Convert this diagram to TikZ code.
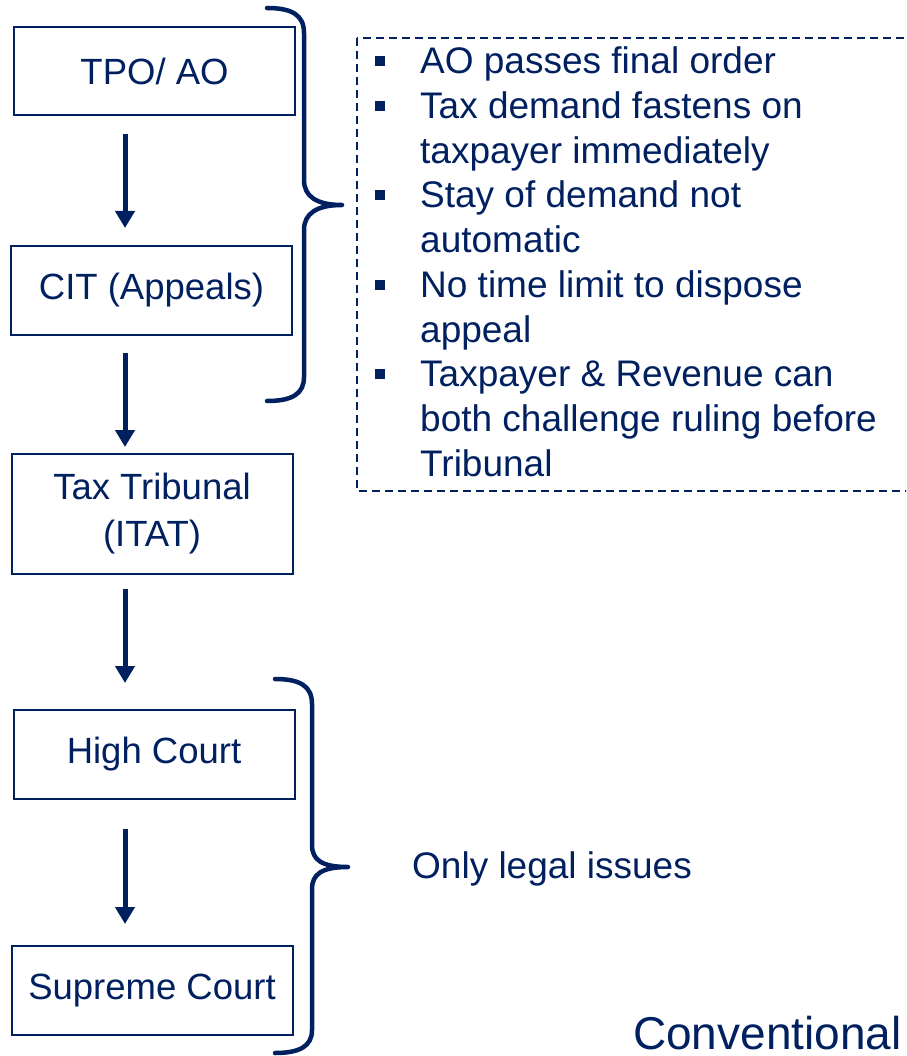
\documentclass[tikz,border=0pt]{standalone}
\usepackage{fontspec}
\setmainfont{Liberation Sans}
\usetikzlibrary{arrows.meta}
\definecolor{navy}{HTML}{002060}
\begin{document}
\begin{tikzpicture}[x=1pt,y=-1pt,
  stagebox/.style={draw=navy, line width=2pt, inner sep=0pt, text=navy,
    minimum width=281pt, align=center, font=\fontsize{36.5}{47}\selectfont},
  flow/.style={draw=navy, line width=5pt, -{Triangle[width=19pt,length=17pt]}},
  brace/.style={draw=navy, line width=4.5pt, line cap=round, line join=round},
  item/.style={anchor=base west, inner sep=0pt, text=navy, font=\fontsize{37}{44}\selectfont},
  bullet/.style={fill=navy, minimum size=10pt, inner sep=0pt},
  note/.style={anchor=base west, inner sep=0pt, text=navy}]
\clip (0,0) rectangle (906,1056);

% appeal stages
\node[stagebox, minimum height=88pt] (tpo) at (154.5,71) {TPO/ AO};
\node[stagebox, minimum height=89pt] (cit) at (151.5,290.5) {CIT (Appeals)};
\node[stagebox, minimum height=120pt] (itat) at (152,514) {Tax Tribunal\\(ITAT)};
\node[stagebox, minimum height=89pt] (hc) at (154,754.5) {High Court};
\node[stagebox, minimum height=89pt] (sc) at (152,990.5) {Supreme Court};

% arrows between stages
\coordinate (axis) at (125,0);
\draw[flow, shorten <=18pt, shorten >=17pt] (tpo.south -| axis) -- (cit.north -| axis);
\draw[flow, shorten <=17pt, shorten >=6pt] (cit.south -| axis) -- (itat.north -| axis);
\draw[flow, shorten <=14pt, shorten >=26pt] (itat.south -| axis) -- (hc.north -| axis);
\draw[flow, shorten <=29pt, shorten >=21pt] (hc.south -| axis) -- (sc.north -| axis);

% upper brace
\draw[brace] (267,8) .. controls (292,8) and (304,15) .. (304,33) -- (304,180)
  .. controls (304,196) and (316,205) .. (342,205)
  .. controls (316,205) and (304,214) .. (304,230) -- (304,377)
  .. controls (304,394) and (292,401) .. (267,401);

% lower brace
\draw[brace] (275,679) .. controls (300,679) and (312,686) .. (312,704) -- (312,845)
  .. controls (312,860) and (322,867) .. (348,867)
  .. controls (322,867) and (312,874) .. (312,889) -- (312,1030)
  .. controls (312,1046) and (300,1053) .. (275,1053);

% notes on the first appeal stages
\draw[navy, line width=1.8pt, dash pattern=on 8pt off 5pt] (357,38) rectangle (912,491);
\node[bullet] (b1) at (380,61.5) {};
\node[bullet] (b2) at (380,106.2) {};
\node[bullet] (b3) at (380,195.5) {};
\node[bullet] (b4) at (380,284.8) {};
\node[bullet] (b5) at (380,374.2) {};
\node[item] (l1) at (420,74) {AO passes final order};
\node[item] (l2) at (420,118.7) {Tax demand fastens on};
\node[item] (l3) at (420,163.3) {taxpayer immediately};
\node[item] (l4) at (420,208) {Stay of demand not};
\node[item] (l5) at (420,252.7) {automatic};
\node[item] (l6) at (420,297.3) {No time limit to dispose};
\node[item] (l7) at (420,342) {appeal};
\node[item] (l8) at (420,386.7) {Taxpayer \& Revenue can};
\node[item] (l9) at (420,431.3) {both challenge ruling before};
\node[item] (l10) at (420,476) {Tribunal};

% note on the courts
\node[note, font=\fontsize{37}{44}\selectfont] (legal) at (412,878) {Only legal issues};
\node[note, font=\fontsize{46}{52}\selectfont] (conv) at (633,1049) {Conventional};
\end{tikzpicture}
\end{document}
